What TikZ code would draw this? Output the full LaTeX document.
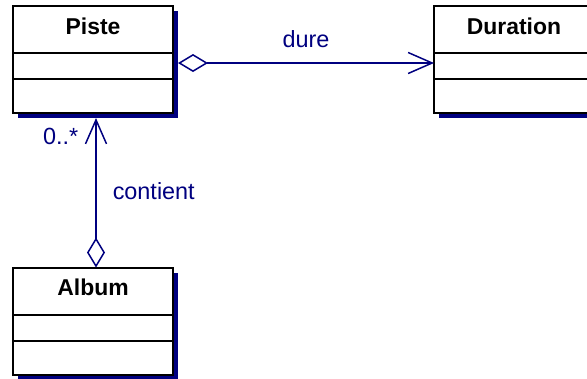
\documentclass[tikz,border=0pt]{standalone}
\usepackage{fontspec}
\setmainfont{Liberation Sans}
\usetikzlibrary{arrows.meta,shadows,calc}
\definecolor{umlblue}{RGB}{0,0,128}
\begin{document}
\begin{tikzpicture}[x=1bp,y=-1bp,
  classbox/.style={draw=black, line width=1.5bp, fill=white,
    minimum width=160bp, minimum height=107bp, anchor=north west,
    inner sep=0pt, outer sep=0pt,
    drop shadow={shadow xshift=5bp, shadow yshift=-5bp, fill=umlblue, opacity=1}},
  divider/.style={draw=black, line width=1.5bp},
  classtitle/.style={font=\bfseries\fontsize{23}{27}\selectfont, inner sep=0pt, anchor=base},
  lbl/.style={text=umlblue, font=\fontsize{23.5}{28}\selectfont, inner sep=0pt},
  assoc/.style={draw=umlblue, line width=1.5bp,
    {Diamond[open,length=30bp,width=18bp]}-{Straight Barb[length=24bp,width=21bp]}}
]
\useasboundingbox (0,0) rectangle (587,378);
\clip (0,0) rectangle (587,378);
\fill[white] (0,0) rectangle (587,378);

% classes
\node[classbox] (piste) at (13,6) {};
\node[classbox] (duration) at (434,6) {};
\node[classbox] (album) at (13,268) {};

\foreach \c in {piste,duration,album}{
  \draw[divider] ($(\c.north west)+(0,47)$) -- ($(\c.north east)+(0,47)$);
  \draw[divider] ($(\c.north west)+(0,73)$) -- ($(\c.north east)+(0,73)$);
}

\node[classtitle] (pistetitle) at ($(piste.north)+(0,28)$) {Piste};
\node[classtitle] (durationtitle) at ($(duration.north)+(0,28)$) {Duration};
\node[classtitle] (albumtitle) at ($(album.north)+(0,27.5)$) {Album};

% connector end points
\coordinate (pisteR) at ($(piste.north east)+(5,57)$);
\coordinate (durL) at ($(duration.north west)+(0,57)$);
\coordinate (pisteB) at ($(piste.south)+(3,5)$);
\coordinate (albumT) at ($(album.north)+(3,-0.5)$);

% associations
\draw[assoc] (pisteR) -- node[lbl, pos=0.5, anchor=base, yshift=16bp] (dure) {dure} (durL);
\draw[assoc] (albumT) --
  node[lbl, pos=0.5, anchor=base west, xshift=16bp, yshift=-6.5bp] (contient) {contient}
  node[lbl, pos=1, anchor=base east, xshift=-17bp, yshift=-26bp] (mult) {0..*}
  (pisteB);
\end{tikzpicture}
\end{document}
